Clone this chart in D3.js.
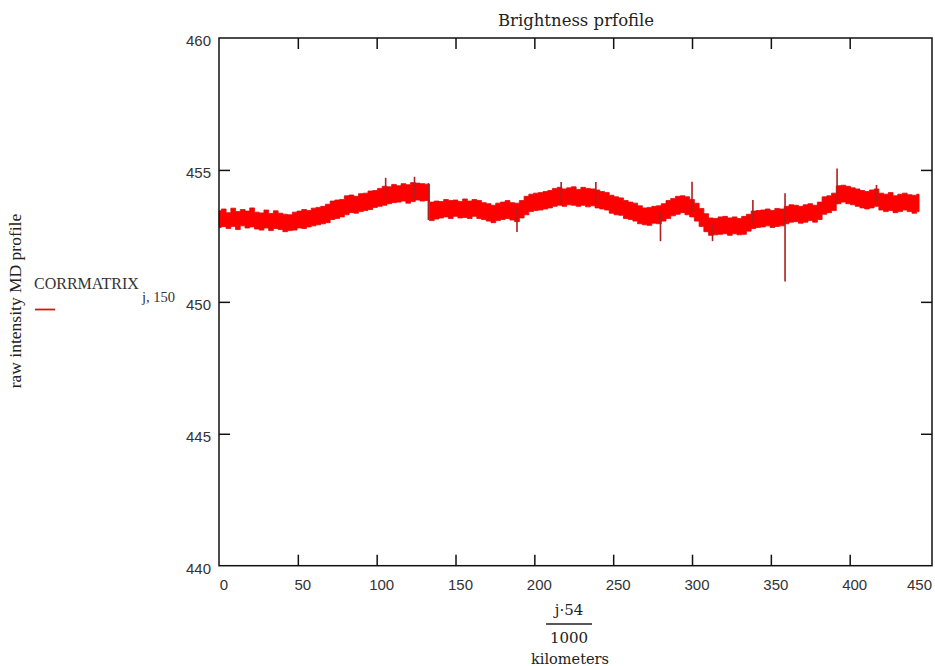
<!DOCTYPE html>
<html>
<head>
<meta charset="utf-8">
<script src="https://cdn.jsdelivr.net/npm/d3@7"></script>
<style>
  html, body { margin: 0; padding: 0; background: #fff; }
  svg { display: block; }
</style>
</head>
<body>
<svg id="chart" width="935" height="666"></svg>
<script>
// ---------------- data ----------------
const titleText = "Brightness prfofile";
const yTitle = "raw intensity MD profile";
const legendName = "CORRMATRIX";
const legendSub = "j, 150";
const xTickLabels = [0, 50, 100, 150, 200, 250, 300, 350, 400, 450];
const yTickLabels = [440, 445, 450, 455, 460];

// position along the profile, km (sampled every 3 km)
const km = [0,3,6,9,12,15,18,21,24,27,30,33,36,39,42,45,48,51,54,57,60,63,66,69,72,75,78,81,84,87,90,93,96,99,102,105,108,111,114,117,120,123,126,129,132,
  135,138,141,144,147,150,153,156,159,162,165,168,171,174,177,180,183,186,189,192,195,198,201,204,207,210,213,216,219,222,225,228,231,234,237,240,243,246,249,252,255,258,261,264,267,270,273,276,279,282,285,288,291,294,297,300,303,306,309,312,315,318,321,324,327,330,333,336,339,342,345,348,351,354,357,360,363,366,369,372,375,378,381,384,387,390,393,396,399,402,405,408,411,414,417,420,423,426,429,432,435,438,441,444];
// upper edge of the noisy brightness band
const bandHigh = [453.45,453.52,453.38,453.55,453.42,453.50,453.44,453.56,453.40,453.37,453.48,453.35,453.45,453.36,453.32,453.30,453.40,453.44,453.50,453.46,453.55,453.58,453.62,453.70,453.82,453.86,453.88,454.02,454.05,454.00,454.10,454.12,454.20,454.22,454.30,454.38,454.36,454.45,454.40,454.48,454.44,454.52,454.50,454.48,454.46,
  453.78,453.82,453.80,453.88,453.84,453.86,453.80,453.90,453.82,453.88,453.84,453.76,453.72,453.66,453.74,453.78,453.84,453.76,453.74,453.84,454.00,454.08,454.12,454.14,454.18,454.22,454.30,454.34,454.28,454.32,454.36,454.26,454.34,454.30,454.28,454.24,454.18,454.14,454.04,453.98,453.94,453.84,453.78,453.74,453.64,453.56,453.58,453.62,453.64,453.72,453.84,453.92,454.00,454.02,453.98,453.88,453.74,453.54,453.34,453.18,453.16,453.22,453.24,453.18,453.22,453.16,453.24,453.32,453.44,453.46,453.48,453.52,453.46,453.54,453.52,453.62,453.68,453.66,453.62,453.68,453.72,453.66,453.78,453.98,454.02,454.12,454.40,454.42,454.38,454.32,454.28,454.22,454.18,454.24,454.28,454.12,454.08,454.14,454.02,454.08,454.12,454.06,454.04,454.08];
// lower edge of the noisy brightness band
const bandLow = [452.82,452.85,452.78,452.86,452.74,452.88,452.80,452.84,452.76,452.72,452.80,452.70,452.78,452.74,452.66,452.70,452.72,452.80,452.78,452.84,452.88,452.92,452.96,453.00,453.12,453.16,453.22,453.30,453.38,453.36,453.42,453.46,453.50,453.58,453.62,453.66,453.72,453.76,453.78,453.82,453.74,453.80,453.86,453.82,453.84,
  453.08,453.14,453.18,453.22,453.16,453.24,453.18,453.20,453.16,453.24,453.16,453.12,453.06,453.00,453.08,453.12,453.16,453.10,453.04,453.18,453.30,453.42,453.46,453.48,453.52,453.56,453.62,453.66,453.62,453.68,453.66,453.62,453.66,453.60,453.64,453.56,453.52,453.48,453.36,453.30,453.28,453.16,453.12,453.06,452.96,452.92,452.90,452.98,452.96,453.06,453.16,453.26,453.32,453.38,453.30,453.22,453.06,452.86,452.66,452.52,452.54,452.56,452.58,452.52,452.58,452.54,452.56,452.68,452.78,452.82,452.84,452.88,452.82,452.86,452.88,452.96,453.02,453.04,452.98,453.02,453.08,453.02,453.12,453.32,453.38,453.46,453.72,453.78,453.72,453.68,453.62,453.56,453.52,453.56,453.62,453.48,453.42,453.46,453.38,453.42,453.48,453.42,453.36,453.42];
// isolated spikes in the profile
const spikeKm   = [105.7, 124, 132.8, 189, 217, 239, 280, 300, 313, 338.6, 359, 392, 417];
const spikeLow  = [453.90, 453.90, 453.10, 452.65, 453.70, 453.70, 452.30, 453.40, 452.30, 453.00, 450.77, 453.70, 453.80];
const spikeHigh = [454.70, 454.74, 454.50, 453.60, 454.54, 454.54, 453.40, 454.55, 452.90, 453.86, 454.12, 455.05, 454.43];

// ---------------- layout ----------------
const svg = d3.select("#chart");
svg.append("rect").attr("width", 935).attr("height", 666).attr("fill", "#fff");

const L = 219, R = 932, T = 38, B = 565.7;
const x = d3.scaleLinear().domain([0, 452.2]).range([L, R]);
const y = d3.scaleLinear().domain([440, 460]).range([B, T]);

const serif = "'Liberation Serif', 'Times New Roman', serif";
const wideSerif = "'DejaVu Serif', Georgia, serif";
const sans = "'Liberation Sans', Arial, sans-serif";

// data band
const band = km.map((k, i) => ({ k, hi: bandHigh[i], lo: bandLow[i] }));
const area = d3.area()
  .x(d => x(d.k))
  .y0(d => y(d.lo))
  .y1(d => y(d.hi))
  .curve(d3.curveStep);
svg.append("path")
  .datum(band)
  .attr("d", area)
  .attr("fill", "#ff0000")
  .attr("stroke", "#dd0a0a")
  .attr("stroke-width", 0.8);

// spikes
const spikes = spikeKm.map((k, i) => ({ k, lo: spikeLow[i], hi: spikeHigh[i] }));
svg.append("g").selectAll("line")
  .data(spikes)
  .join("line")
  .attr("x1", d => x(d.k)).attr("x2", d => x(d.k))
  .attr("y1", d => y(d.lo)).attr("y2", d => y(d.hi))
  .attr("stroke", "#b01e1e")
  .attr("stroke-width", 1.6);

// frame
svg.append("rect")
  .attr("x", L).attr("y", T).attr("width", R - L).attr("height", B - T)
  .attr("fill", "none").attr("stroke", "#111").attr("stroke-width", 1.5);

// inward tick marks
const innerX = xTickLabels.filter(v => v > 0 && v < 450);
const innerY = yTickLabels.filter(v => v > 440 && v < 460);
const tickLen = 11;
const gBottom = svg.append("g").attr("transform", `translate(0,${B})`)
  .call(d3.axisBottom(x).tickValues(innerX).tickSize(-tickLen).tickFormat(""));
const gTop = svg.append("g").attr("transform", `translate(0,${T})`)
  .call(d3.axisTop(x).tickValues(innerX).tickSize(-tickLen).tickFormat(""));
const gLeft = svg.append("g").attr("transform", `translate(${L},0)`)
  .call(d3.axisLeft(y).tickValues(innerY).tickSize(-tickLen).tickFormat(""));
const gRight = svg.append("g").attr("transform", `translate(${R},0)`)
  .call(d3.axisRight(y).tickValues(innerY).tickSize(-tickLen).tickFormat(""));
[gBottom, gTop, gLeft, gRight].forEach(g => {
  g.select(".domain").remove();
  g.selectAll(".tick line").attr("stroke", "#111").attr("stroke-width", 1.5);
});

// tick labels
const xl = svg.append("g");
xl.selectAll("text").data(xTickLabels).join("text")
  .attr("x", d => x(d) + 5)
  .attr("y", 584)
  .attr("text-anchor", "middle")
  .attr("dominant-baseline", "central")
  .attr("font-family", sans).attr("font-size", 15).attr("fill", "#333")
  .text(d => d)
  .each(function () {
    const bb = this.getBBox();
    if (bb.x + bb.width > 932) d3.select(this).attr("x", +d3.select(this).attr("x") - (bb.x + bb.width - 932));
  });
const yl = svg.append("g");
yl.selectAll("text").data(yTickLabels).join("text")
  .attr("x", 211)
  .attr("y", d => y(d) + 2.5)
  .attr("text-anchor", "end")
  .attr("dominant-baseline", "central")
  .attr("font-family", sans).attr("font-size", 15).attr("fill", "#333")
  .text(d => d);

// title
svg.append("text")
  .attr("x", 576).attr("y", 26)
  .attr("text-anchor", "middle")
  .attr("font-family", wideSerif).attr("font-size", 16.5).attr("fill", "#222")
  .text(titleText);

// y-axis title
svg.append("text")
  .attr("transform", "translate(21,301) rotate(-90)")
  .attr("text-anchor", "middle")
  .attr("font-family", serif).attr("font-size", 17.5).attr("fill", "#222")
  .text(yTitle);

// legend
svg.append("text")
  .attr("x", 34).attr("y", 289)
  .attr("font-family", serif).attr("font-size", 16).attr("fill", "#333")
  .text(legendName);
svg.append("text")
  .attr("x", 142).attr("y", 302)
  .attr("font-family", serif).attr("font-size", 14.5).attr("fill", "#333")
  .text(legendSub);
svg.append("line")
  .attr("x1", 35).attr("x2", 55).attr("y1", 309.5).attr("y2", 309.5)
  .attr("stroke", "#e01010").attr("stroke-width", 1.8);

// x-axis title: fraction j·54 / 1000, then units
const xc = 569;
svg.append("text")
  .attr("x", xc).attr("y", 615)
  .attr("text-anchor", "middle")
  .attr("font-family", wideSerif).attr("font-size", 15).attr("fill", "#222")
  .text("j·54");
svg.append("line")
  .attr("x1", xc - 23).attr("x2", xc + 23).attr("y1", 624).attr("y2", 624)
  .attr("stroke", "#222").attr("stroke-width", 1.3);
svg.append("text")
  .attr("x", xc).attr("y", 643)
  .attr("text-anchor", "middle")
  .attr("font-family", wideSerif).attr("font-size", 15).attr("fill", "#222")
  .text("1000");
svg.append("text")
  .attr("x", xc + 1).attr("y", 664)
  .attr("text-anchor", "middle")
  .attr("font-family", wideSerif).attr("font-size", 14.5).attr("fill", "#222")
  .text("kilometers");
</script>
</body>
</html>
